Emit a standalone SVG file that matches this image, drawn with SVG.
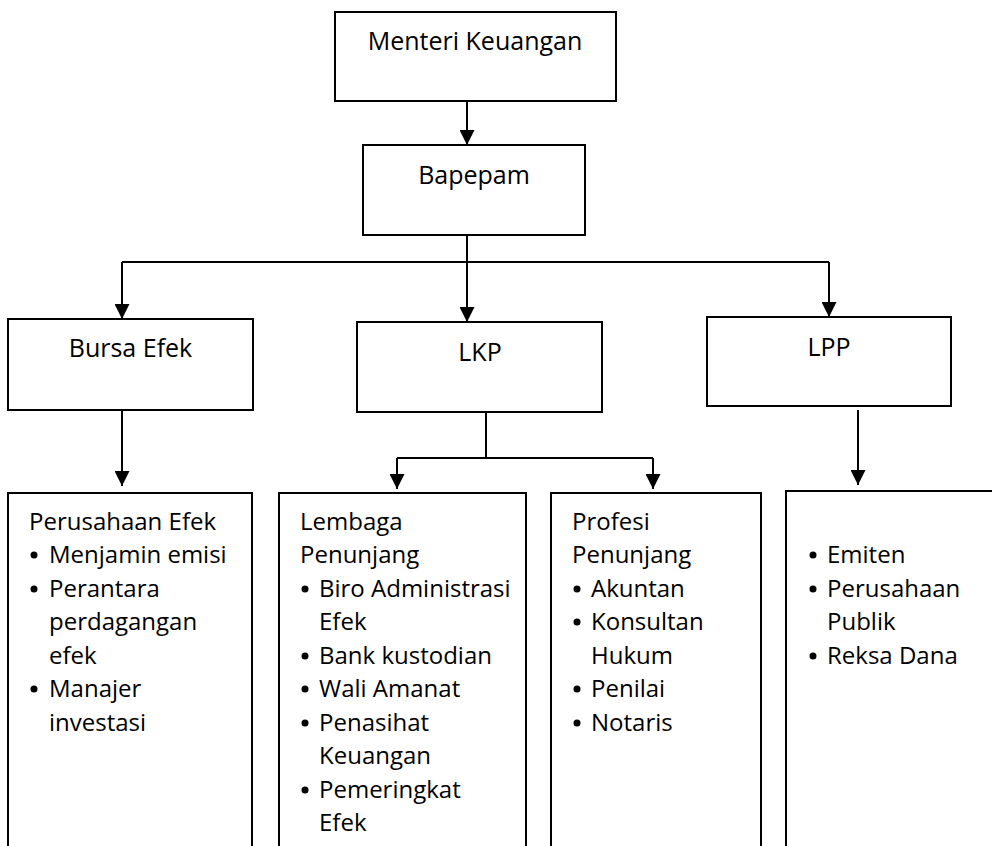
<svg xmlns="http://www.w3.org/2000/svg" width="992" height="846" viewBox="0 0 992 846">
<defs>
<marker id="ah" viewBox="0 0 15 15" refX="15" refY="7.5" markerWidth="15" markerHeight="15" markerUnits="userSpaceOnUse" orient="auto">
<path d="M0,0 L15,7.5 L0,15 z" fill="#000"/>
</marker>
<style>
.box{fill:#fff;stroke:#000;stroke-width:2}
.t{font-family:"Open Sans","Noto Sans",sans-serif;font-size:25px;fill:#000}
.b{font-size:24px}
.c{text-anchor:middle}
.ln{fill:none;stroke:#000;stroke-width:2}
.ar{marker-end:url(#ah)}
</style>
</defs>
<rect width="992" height="846" fill="#fff"/>
<g id="connectors">
<path class="ln ar" d="M467,101 V145"/>
<path class="ln" d="M467,235 V262 M122,262 H829"/>
<path class="ln ar" d="M122,262 V319"/>
<path class="ln ar" d="M467,262 V322"/>
<path class="ln ar" d="M829,262 V317"/>
<path class="ln ar" d="M122,410 V486"/>
<path class="ln" d="M486,412 V458 M397,458 H653"/>
<path class="ln ar" d="M397,458 V489"/>
<path class="ln ar" d="M653,458 V489"/>
<path class="ln ar" d="M858,410 V485"/>
</g>
<g id="menteri">
<rect class="box" x="335" y="12" width="281" height="89"/>
<text class="t c" x="475" y="50">Menteri Keuangan</text>
</g>
<g id="bapepam">
<rect class="box" x="363" y="145" width="222" height="90"/>
<text class="t c" x="474" y="184">Bapepam</text>
</g>
<g id="bursa">
<rect class="box" x="8" y="319" width="245" height="91"/>
<text class="t c" x="130.5" y="357">Bursa Efek</text>
</g>
<g id="lkp">
<rect class="box" x="357" y="322" width="245" height="90"/>
<text class="t c" x="480" y="361">LKP</text>
</g>
<g id="lpp">
<rect class="box" x="707" y="317" width="244" height="89"/>
<text class="t c" x="829" y="356">LPP</text>
</g>
<g id="perusahaan-efek">
<rect class="box" x="8" y="493" width="244" height="360"/>
<text class="t b" x="29" y="530">Perusahaan Efek</text>
<circle cx="34" cy="555" r="3.5"/><text class="t b" x="49" y="563">Menjamin emisi</text>
<circle cx="34" cy="589" r="3.5"/><text class="t b" x="49" y="597">Perantara</text>
<text class="t b" x="49" y="630">perdagangan</text>
<text class="t b" x="49" y="664">efek</text>
<circle cx="34" cy="689" r="3.5"/><text class="t b" x="49" y="697">Manajer</text>
<text class="t b" x="49" y="731">investasi</text>
</g>
<g id="lembaga-penunjang">
<rect class="box" x="279" y="493" width="247" height="360"/>
<text class="t b" x="300" y="530">Lembaga</text>
<text class="t b" x="300" y="563">Penunjang</text>
<circle cx="305" cy="589" r="3.5"/><text class="t b" x="319" y="597">Biro Administrasi</text>
<text class="t b" x="319" y="630">Efek</text>
<circle cx="305" cy="656" r="3.5"/><text class="t b" x="319" y="664">Bank kustodian</text>
<circle cx="305" cy="689" r="3.5"/><text class="t b" x="319" y="697">Wali Amanat</text>
<circle cx="305" cy="723" r="3.5"/><text class="t b" x="319" y="731">Penasihat</text>
<text class="t b" x="319" y="764">Keuangan</text>
<circle cx="305" cy="790" r="3.5"/><text class="t b" x="319" y="798">Pemeringkat</text>
<text class="t b" x="319" y="831">Efek</text>
</g>
<g id="profesi-penunjang">
<rect class="box" x="551" y="493" width="210" height="360"/>
<text class="t b" x="572" y="530">Profesi</text>
<text class="t b" x="572" y="563">Penunjang</text>
<circle cx="577" cy="589" r="3.5"/><text class="t b" x="591" y="597">Akuntan</text>
<circle cx="577" cy="622" r="3.5"/><text class="t b" x="591" y="630">Konsultan</text>
<text class="t b" x="591" y="664">Hukum</text>
<circle cx="577" cy="689" r="3.5"/><text class="t b" x="591" y="697">Penilai</text>
<circle cx="577" cy="723" r="3.5"/><text class="t b" x="591" y="731">Notaris</text>
</g>
<g id="lpp-members">
<rect class="box" x="786" y="491" width="220" height="362"/>
<circle cx="813" cy="555" r="3.5"/><text class="t b" x="827" y="563">Emiten</text>
<circle cx="813" cy="589" r="3.5"/><text class="t b" x="827" y="597">Perusahaan</text>
<text class="t b" x="827" y="630">Publik</text>
<circle cx="813" cy="656" r="3.5"/><text class="t b" x="827" y="664">Reksa Dana</text>
</g>
</svg>
